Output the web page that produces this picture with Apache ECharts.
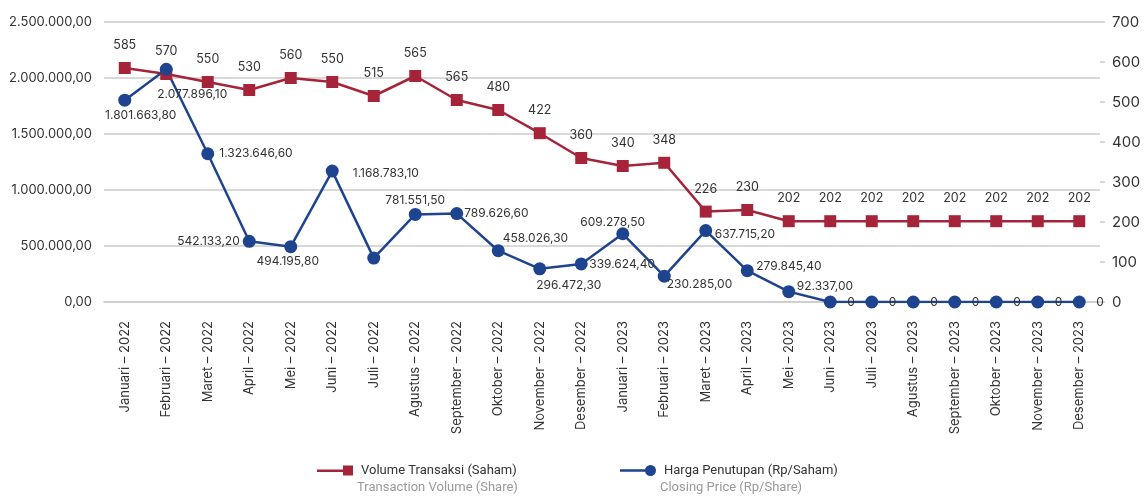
<html>
<head>
<meta charset="utf-8">
<title>Volume Transaksi dan Harga Penutupan</title>
<script src="https://cdn.jsdelivr.net/npm/echarts@6/dist/echarts.min.js"></script>
</head>
<body style="margin:0;background:#fff;">
<div id="main" style="width:1148px;height:497px;"></div>
<script type="text/javascript">
var months = ["Januari – 2022","Februari – 2022","Maret – 2022","April – 2022","Mei – 2022","Juni – 2022",
    "Juli – 2022","Agustus – 2022","September – 2022","Oktober – 2022","November – 2022","Desember – 2022",
    "Januari – 2023","Februari – 2023","Maret – 2023","April – 2023","Mei – 2023","Juni – 2023",
    "Juli – 2023","Agustus – 2023","September – 2023","Oktober – 2023","November – 2023","Desember – 2023"];

// red line, right axis
var redValues = [585,570,550,530,560,550,515,565,505,480,422,360,340,348,226,230,202,202,202,202,202,202,202,202];
// printed labels (September label reads 565 in the source)
var redLabels = ["585","570","550","530","560","550","515","565","565","480","422","360","340","348","226","230","202","202","202","202","202","202","202","202"];

// blue line, left axis
var blueValues = [1801663.8,2077896.1,1323646.6,542133.2,494195.8,1168783.1,392000,781551.5,789626.6,458026.3,
    296472.3,339624.4,609278.5,230285.0,637715.2,279845.4,92337.0,0,0,0,0,0,0,0];

var leftTicks = {min:0,max:2500000,interval:500000};
var rightTicks = {min:0,max:700,interval:100};

var redName = "Volume Transaksi (Saham)";
var blueName = "Harga Penutupan (Rp/Saham)";
var redSub = "Transaction Volume (Share)";
var blueSub = "Closing Price (Rp/Share)";

function idr(v){
    var p = v.toFixed(2).split(".");
    return p[0].replace(/\B(?=(\d{3})+(?!\d))/g,".") + "," + p[1];
}

// where each blue label sits
var bluePos = {
    0:{position:"bottom",distance:3,offset:[16,0]},
    1:{position:"bottom",distance:6,offset:[26,7]},
    2:{position:"right",distance:5},
    3:{position:"left",distance:3},
    4:{position:"bottom",distance:2,offset:[-3,0]},
    5:{position:"right",distance:6,offset:[8,2]},
    6:{show:false},
    7:{position:"top",distance:2},
    8:{position:"right",distance:1},
    9:{position:"right",distance:1,offset:[-3,-12]},
    10:{position:"bottom",distance:4,offset:[29,0]},
    11:{position:"right",distance:1.5},
    12:{position:"top",distance:0,offset:[-10,1]},
    13:{position:"right",distance:1,offset:[-5,8]},
    14:{position:"right",distance:2.5,offset:[0,4]},
    15:{position:"right",distance:2.5,offset:[0,-4]},
    16:{position:"right",distance:1.5,offset:[0,-5]}
};

var RED = "#a5243a", BLUE = "#1f448f", TXT = "#333333";
var FONT = "Inter";
var LFONT = "Roboto";

var blueData = blueValues.map(function(v,i){
    var lab = bluePos[i] || {position:"right",distance:10.5};
    return {value:v,label:lab};
});

var myChart = echarts.init(document.getElementById("main"));
var option = {
    animation:false,
    textStyle:{fontFamily:FONT},
    grid:{left:104,right:48,top:22,bottom:195},
    legend:[
        {left:312,top:459,itemWidth:36,itemHeight:10,itemGap:0,
         icon:"path://M0,4h26v2.4h-26z M26,0h10v10h-10z",
         textStyle:{fontFamily:LFONT,fontSize:13,color:TXT,padding:[0,0,0,3]},
         data:[{name:redName,itemStyle:{color:RED}}]},
        {left:615,top:459,itemWidth:36,itemHeight:11,itemGap:0,
         icon:"path://M0,4.3h26v2.4h-26z M30.5,0a5.5,5.5 0 1,1 0,11a5.5,5.5 0 1,1 0,-11z",
         textStyle:{fontFamily:LFONT,fontSize:13,color:TXT,padding:[0,0,0,3]},
         data:[{name:blueName,itemStyle:{color:BLUE}}]}
    ],
    graphic:[
        {type:"text",left:357,top:481,style:{text:redSub,fill:"#999999",fontSize:13,fontFamily:LFONT}},
        {type:"text",left:660,top:481,style:{text:blueSub,fill:"#999999",fontSize:13,fontFamily:LFONT}}
    ],
    xAxis:{
        type:"category",
        data:months,
        boundaryGap:true,
        axisLine:{show:true,lineStyle:{color:"#cccccc",width:1.5}},
        axisTick:{show:false},
        axisLabel:{rotate:90,fontSize:13,color:TXT,margin:19,interval:0,fontFamily:FONT}
    },
    yAxis:[
        {type:"value",min:leftTicks.min,max:leftTicks.max,interval:leftTicks.interval,
         axisLine:{show:false},axisTick:{show:false},
         splitLine:{lineStyle:{color:"#cccccc",width:1.5}},
         axisLabel:{formatter:function(v){return idr(v);},fontSize:13,color:TXT,margin:12,fontFamily:FONT}},
        {type:"value",min:rightTicks.min,max:rightTicks.max,interval:rightTicks.interval,
         position:"right",
         axisLine:{show:false},
         axisTick:{show:true,length:5,lineStyle:{color:"#cccccc",width:1.5}},
         splitLine:{show:false},
         axisLabel:{fontSize:15,color:TXT,margin:12,fontFamily:FONT}}
    ],
    series:[
        {name:redName,type:"line",yAxisIndex:1,data:redValues,
         symbol:"rect",symbolSize:12,
         lineStyle:{color:RED,width:2.5},itemStyle:{color:RED},
         label:{show:true,position:"top",distance:10,fontSize:12.5,color:TXT,fontFamily:FONT,
            formatter:function(p){return redLabels[p.dataIndex];}}},
        {name:blueName,type:"line",yAxisIndex:0,data:blueData,
         symbol:"circle",symbolSize:13,
         lineStyle:{color:BLUE,width:2.5},itemStyle:{color:BLUE},
         label:{show:true,fontSize:12,color:TXT,fontFamily:FONT,
            formatter:function(p){return p.value===0?"0":idr(p.value);}}}
    ]
};
myChart.setOption(option);
</script>
</body>
</html>
